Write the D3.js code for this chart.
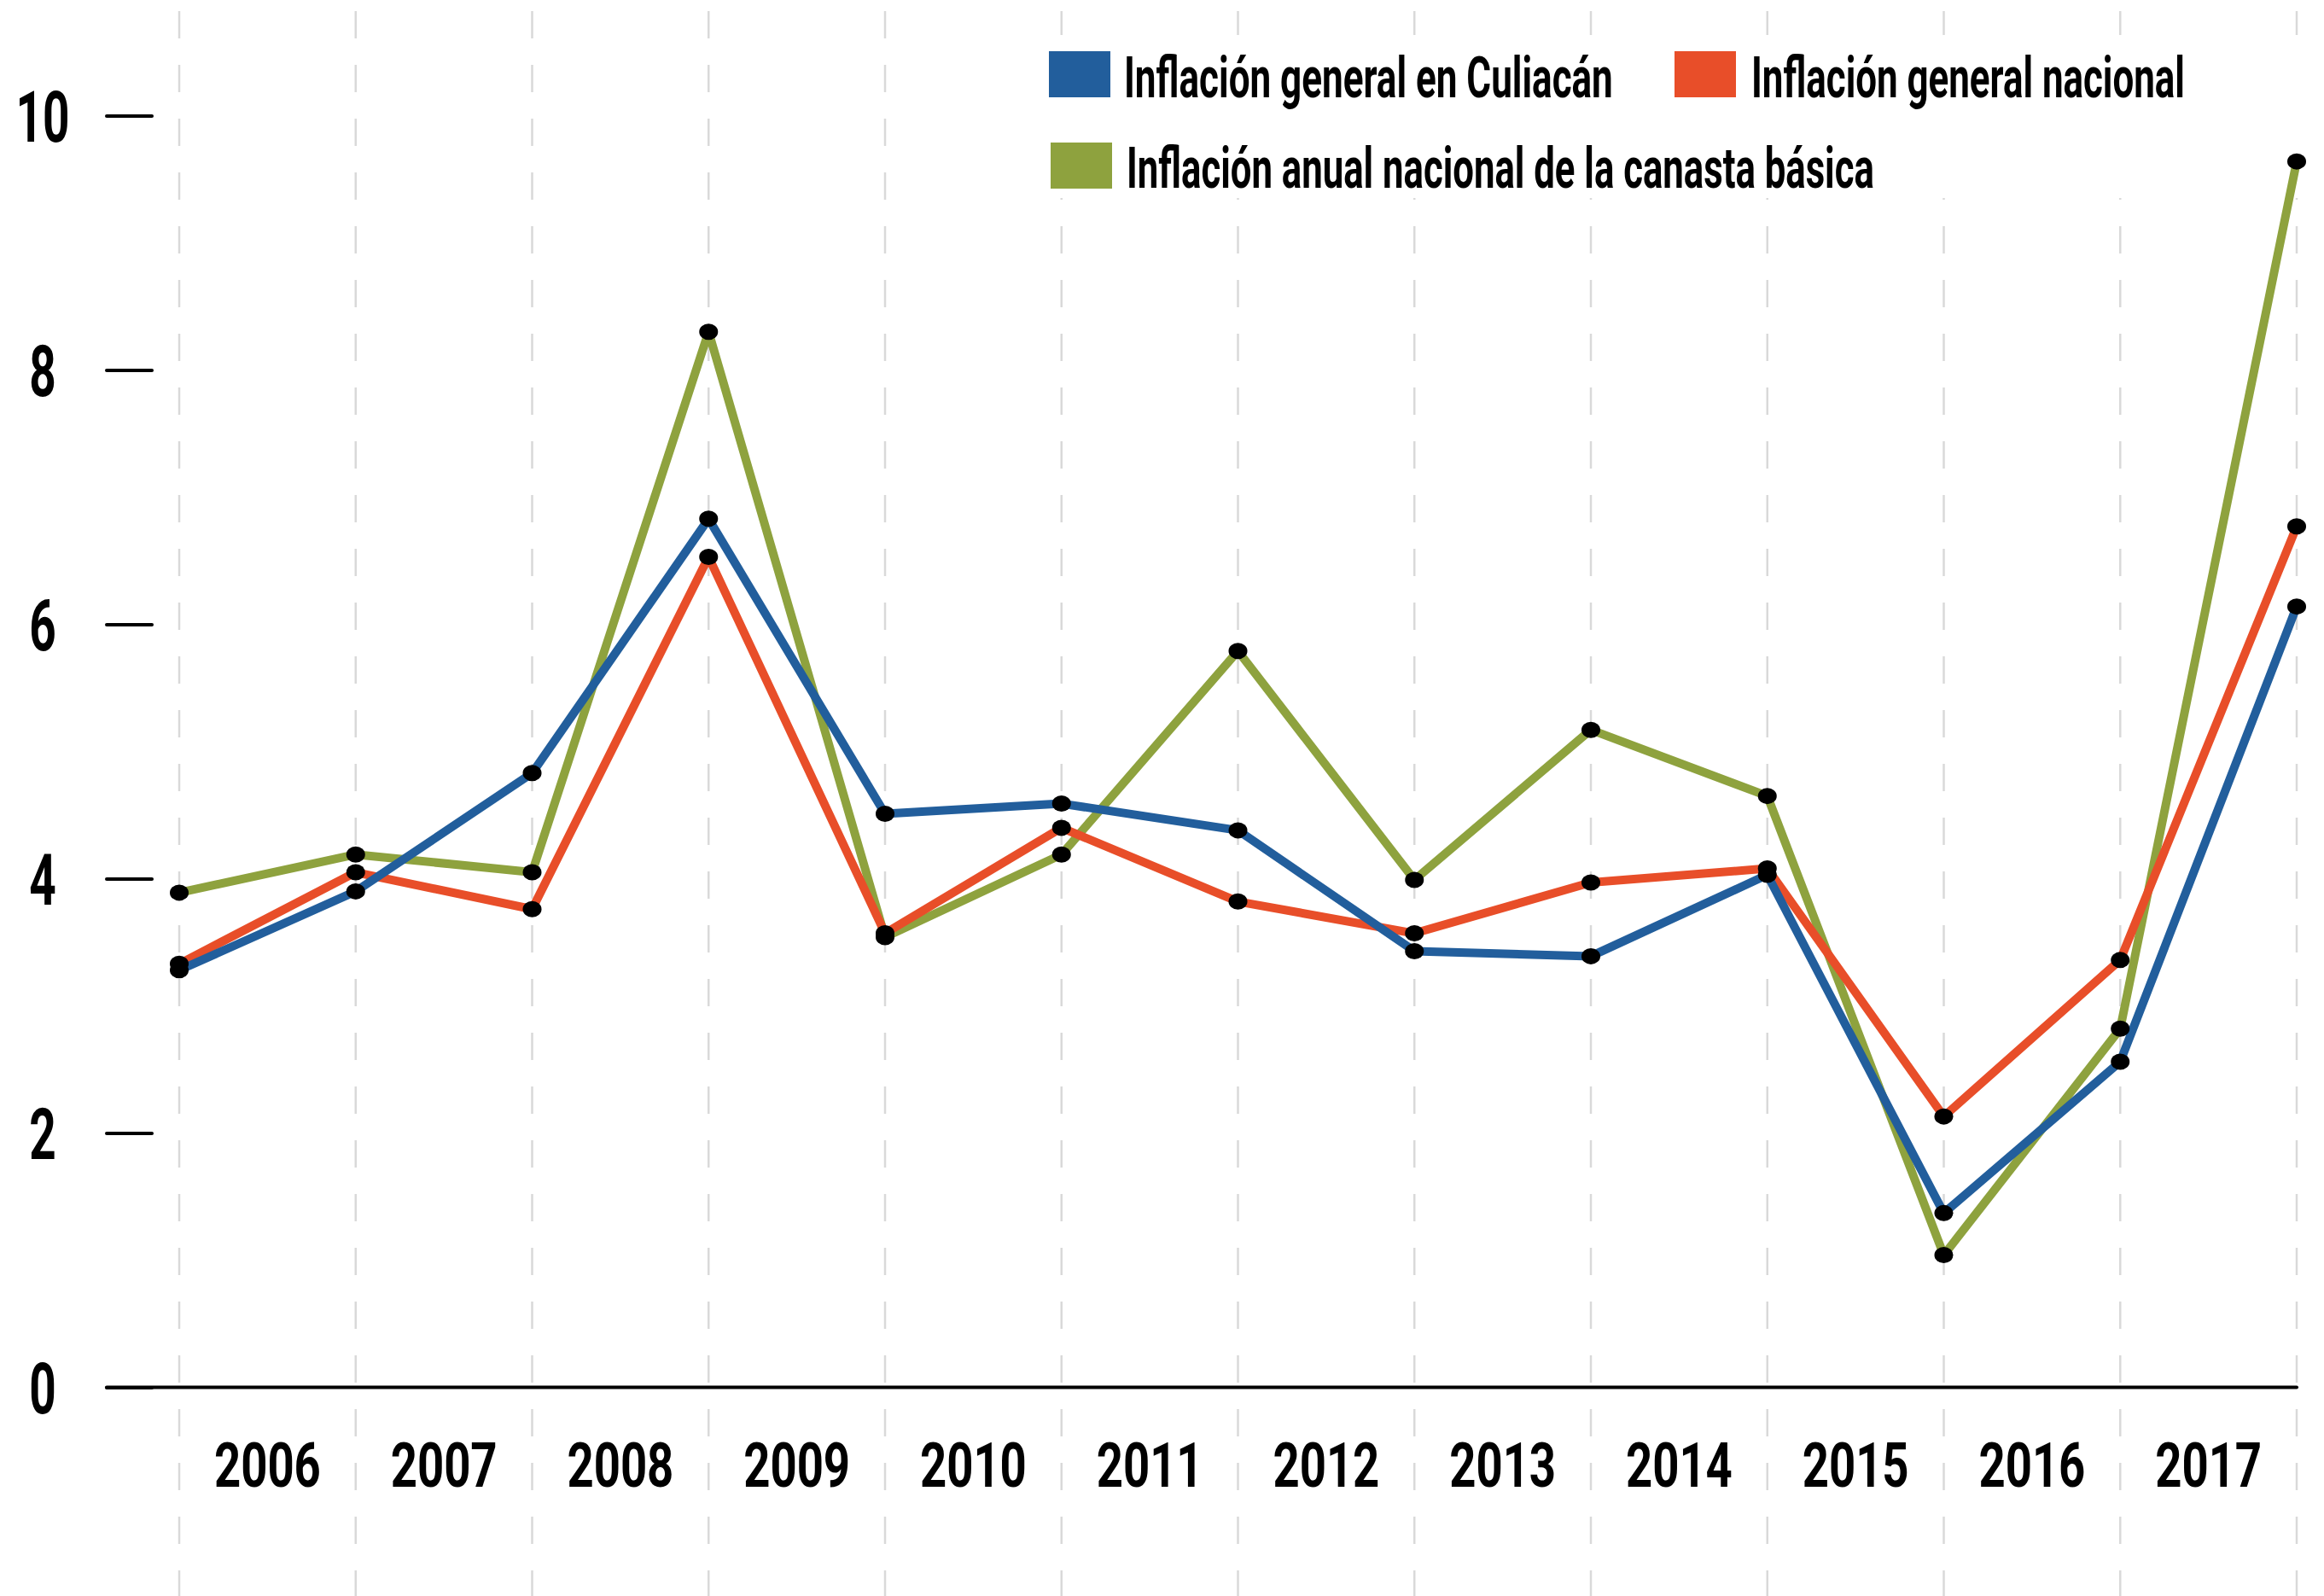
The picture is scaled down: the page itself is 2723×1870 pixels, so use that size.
<!DOCTYPE html>
<html><head><meta charset="utf-8">
<script src="https://cdn.jsdelivr.net/npm/d3@7"></script>
<style>body{margin:0;background:#fff}svg{display:block}</style>
</head><body>
<svg id="c" width="2723" height="1870"></svg>
<script>
const years = [2005,2006,2007,2008,2009,2010,2011,2012,2013,2014,2015,2016,2017];
const yearLabels = ["2006","2007","2008","2009","2010","2011","2012","2013","2014","2015","2016","2017"];
const culiacan = [3.28,3.90,4.83,6.83,4.51,4.59,4.38,3.43,3.39,4.03,1.37,2.56,6.14];
const nacional = [3.33,4.05,3.76,6.53,3.57,4.40,3.82,3.57,3.97,4.08,2.13,3.36,6.77];
const canasta  = [3.89,4.19,4.05,8.30,3.54,4.19,5.79,3.99,5.17,4.65,1.04,2.82,9.64];
const yTicks = [0,2,4,6,8,10];
const seriesNames = ["Inflación general en Culiacán","Inflación general nacional","Inflación anual nacional de la canasta básica"];
const colors = ["#225E9C","#E84E29","#8EA23E"];

const svg = d3.select("#c");
const FONT = "Roboto, 'Liberation Sans', sans-serif";
const x = d3.scalePoint().domain(years).range([210, 2691]);
const y = d3.scaleLinear().domain([0,10]).range([1625.5, 135.5]);
const xb = d3.scaleBand().domain(yearLabels).range([x(2005), x(2017)]);

// horizontal squeeze via transform so the box matches what is drawn
function squeeze(sel, k){
  sel.each(function(){
    const t = d3.select(this);
    const x0 = +t.attr("x") || 0;
    t.attr("x", x0 / k).attr("transform", `scale(${k},1)`);
  });
}

// vertical dashed gridlines
svg.append("g").selectAll("line").data(years).join("line")
  .attr("x1", d=>x(d)).attr("x2", d=>x(d)).attr("y1", 13).attr("y2", 1870)
  .attr("stroke", "#d9d9d9").attr("stroke-width", 2.5).attr("stroke-dasharray", "32 31");

// y axis
const yAxis = svg.append("g").attr("transform","translate(178,0)")
  .call(d3.axisLeft(y).tickValues(yTicks).tickSize(53).tickFormat(d3.format("d")));
yAxis.select(".domain").remove();
yAxis.selectAll(".tick line").attr("stroke","#000").attr("stroke-width",4).attr("stroke-linecap","round");
yAxis.selectAll(".tick text").attr("x",-128).attr("dy","0.36em").attr("text-anchor","middle")
  .attr("font-family",FONT).attr("font-size",83).attr("font-weight",700).attr("fill","#000");
{
  const t10 = yAxis.selectAll(".tick text").filter(d=>d===10).node();
  const k = 63 / t10.getComputedTextLength();
  squeeze(yAxis.selectAll(".tick text"), k);
}

// baseline
svg.append("line").attr("x1",125).attr("x2",x(2017)).attr("y1",y(0)).attr("y2",y(0))
  .attr("stroke","#000").attr("stroke-width",4).attr("stroke-linecap","round");

// x axis labels
const xAxis = svg.append("g").attr("transform",`translate(0,${y(0)})`)
  .call(d3.axisBottom(xb).tickSize(0).tickPadding(0));
xAxis.select(".domain").remove();
xAxis.selectAll(".tick text").attr("y",117).attr("dy",0).attr("x",0)
  .attr("font-family",FONT).attr("font-size",72).attr("font-weight",700).attr("fill","#000");
{
  const t = xAxis.selectAll(".tick text").filter(d=>d==="2006").node();
  const k = 125 / t.getComputedTextLength();
  squeeze(xAxis.selectAll(".tick text"), k);
}

// legend background
svg.append("rect").attr("x",1200).attr("y",41).attr("width",1523).attr("height",191).attr("fill","#fff");

// lines (bottom to top: canasta, nacional, culiacan)
const line = d3.line().x((d,i)=>x(years[i])).y(d=>y(d));
const data = [canasta, nacional, culiacan];
const dcol = [colors[2], colors[1], colors[0]];
data.forEach((s,j)=>{
  svg.append("path").datum(s).attr("d",line).attr("fill","none")
    .attr("stroke",dcol[j]).attr("stroke-width",10).attr("stroke-linejoin","round");
});
data.forEach((s)=>{
  svg.append("g").selectAll("ellipse").data(s).join("ellipse")
    .attr("cx",(d,i)=>x(years[i])).attr("cy",d=>y(d)).attr("rx",11).attr("ry",9.5).attr("fill","#000");
});

// legend
const legendItems = [
  {name:seriesNames[0], color:colors[0], sx:1229, sy:60, tx:1317, ty:114, w:573},
  {name:seriesNames[1], color:colors[1], sx:1962, sy:60, tx:2052, ty:114, w:508},
  {name:seriesNames[2], color:colors[2], sx:1231, sy:167, tx:1320, ty:220, w:876}
];
const lg = svg.append("g");
legendItems.forEach(it=>{
  lg.append("rect").attr("x",it.sx).attr("y",it.sy).attr("width",72).attr("height",54).attr("fill",it.color);
  const t = lg.append("text").attr("x",it.tx).attr("y",it.ty).text(it.name)
    .attr("font-family",FONT).attr("font-size",66).attr("font-weight",700).attr("fill","#000");
  const k = it.w / t.node().getComputedTextLength();
  squeeze(t, k);
});
</script>
</body></html>
